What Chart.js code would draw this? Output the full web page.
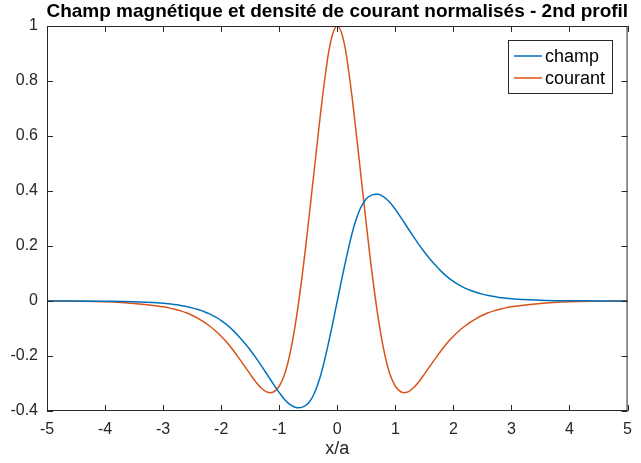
<!DOCTYPE html>
<html>
<head>
<meta charset="utf-8">
<script src="https://cdn.jsdelivr.net/npm/chart.js@4"></script>
<style>
  html, body { margin: 0; padding: 0; background: #fff; }
  #wrap { width: 641px; height: 463px; }
</style>
</head>
<body>
<div id="wrap"><canvas id="chart" width="641" height="463"></canvas></div>
<script>
// DONNÉES
const xs = [-5, -4.5, -4, -3.5,
  -3, -2.9, -2.8, -2.7, -2.6, -2.5, -2.4, -2.3, -2.2, -2.1, -2, -1.9, -1.8, -1.7, -1.6, -1.5, -1.4, -1.3, -1.2, -1.1, -1, -0.9, -0.8, -0.7, -0.6, -0.5, -0.4, -0.3, -0.2, -0.1,
  0, 0.1, 0.2, 0.3, 0.4, 0.5, 0.6, 0.7, 0.8, 0.9, 1, 1.1, 1.2, 1.3, 1.4, 1.5, 1.6, 1.7, 1.8, 1.9, 2, 2.1, 2.2, 2.3, 2.4, 2.5, 2.6, 2.7, 2.8, 2.9, 3,
  3.5, 4, 4.5, 5];
const champ = [0, -0.0003, -0.001, -0.003,
  -0.008, -0.01, -0.013, -0.016, -0.02, -0.025, -0.031, -0.038, -0.047, -0.058, -0.071, -0.087, -0.106, -0.128, -0.152, -0.178, -0.207, -0.238, -0.27, -0.302, -0.333, -0.36, -0.379, -0.388, -0.386, -0.372, -0.338, -0.28, -0.198, -0.102,
  0, 0.102, 0.198, 0.28, 0.338, 0.372, 0.386, 0.388, 0.379, 0.36, 0.333, 0.302, 0.27, 0.238, 0.207, 0.178, 0.152, 0.128, 0.106, 0.087, 0.071, 0.058, 0.047, 0.038, 0.031, 0.025, 0.02, 0.016, 0.013, 0.01, 0.008,
  0.003, 0.001, 0.0003, 0];
const courant = [0, -0.001, -0.003, -0.009,
  -0.021, -0.025, -0.03, -0.036, -0.043, -0.052, -0.063, -0.076, -0.091, -0.108, -0.128, -0.151, -0.177, -0.206, -0.236, -0.266, -0.295, -0.318, -0.332, -0.331, -0.31, -0.262, -0.177, -0.055, 0.1, 0.28, 0.47, 0.66, 0.83, 0.955,
  1, 0.955, 0.83, 0.66, 0.47, 0.28, 0.1, -0.055, -0.177, -0.262, -0.31, -0.331, -0.332, -0.318, -0.295, -0.266, -0.236, -0.206, -0.177, -0.151, -0.128, -0.108, -0.091, -0.076, -0.063, -0.052, -0.043, -0.036, -0.03, -0.025, -0.021,
  -0.009, -0.003, -0.001, 0];
const xTicks = [-5, -4, -3, -2, -1, 0, 1, 2, 3, 4, 5];
const yTicks = [-0.4, -0.2, 0, 0.2, 0.4, 0.6, 0.8, 1];
const titre = "Champ magnétique et densité de courant normalisés - 2nd profil";
const xLabel = "x/a";

const FONT = "'Liberation Sans', Arial, Helvetica, sans-serif";
const AXE = "#262626";

// ------------------------------
// BOÎTE, TICKS INTÉRIEURS, TITRE, LÉGENDE
// ------------------------------
const matlabStyle = {
  id: "matlabStyle",
  afterDraw(chart) {
    const ctx = chart.ctx;
    const a = chart.chartArea;
    const sx = chart.scales.x;
    const sy = chart.scales.y;
    ctx.save();
    ctx.strokeStyle = AXE;
    ctx.lineWidth = 1;
    ctx.strokeRect(a.left + 0.5, a.top + 0.5, a.right - a.left - 1, a.bottom - a.top - 1);
    ctx.beginPath();
    xTicks.forEach((v) => {
      const px = Math.round(sx.getPixelForValue(v)) + 0.5;
      ctx.moveTo(px, a.bottom); ctx.lineTo(px, a.bottom - 6);
      ctx.moveTo(px, a.top); ctx.lineTo(px, a.top + 6);
    });
    yTicks.forEach((v) => {
      const py = Math.round(sy.getPixelForValue(v)) + 0.5;
      ctx.moveTo(a.left, py); ctx.lineTo(a.left + 6, py);
      ctx.moveTo(a.right, py); ctx.lineTo(a.right - 6, py);
    });
    ctx.stroke();

    // titre
    ctx.fillStyle = "#000";
    ctx.font = "bold 19px " + FONT;
    ctx.textAlign = "center";
    ctx.textBaseline = "middle";
    ctx.fillText(titre, (a.left + a.right) / 2, 12);

    // label x
    ctx.fillStyle = AXE;
    ctx.font = "18px " + FONT;
    ctx.fillText(xLabel, (a.left + a.right) / 2, 449);

    // légende
    const lx = 508, ly = 40, lw = 104, lh = 53;
    ctx.fillStyle = "#fff";
    ctx.fillRect(lx, ly, lw, lh);
    ctx.strokeStyle = AXE;
    ctx.strokeRect(lx + 0.5, ly + 0.5, lw, lh);
    ctx.font = "18px " + FONT;
    ctx.textAlign = "left";
    chart.data.datasets.forEach((ds, i) => {
      const yy = ly + 16 + i * 22;
      ctx.strokeStyle = ds.borderColor;
      ctx.lineWidth = 1.5;
      ctx.beginPath();
      ctx.moveTo(lx + 6, yy); ctx.lineTo(lx + 34, yy);
      ctx.stroke();
      ctx.fillStyle = "#000";
      ctx.fillText(ds.label, lx + 37, yy + 1);
    });
    ctx.restore();
  },
};

const ctx = document.getElementById("chart").getContext("2d");
new Chart(ctx, {
  type: "scatter",
  data: {
    datasets: [
      {
        label: "champ",
        data: xs.map((x, i) => ({ x: x, y: champ[i] })),
        borderColor: "#0072BD",
        showLine: true,
      },
      {
        label: "courant",
        data: xs.map((x, i) => ({ x: x, y: courant[i] })),
        borderColor: "#D95319",
        showLine: true,
      },
    ],
  },
  options: {
    responsive: false,
    animation: false,
    devicePixelRatio: 1,
    layout: { padding: { top: 26, right: 6, left: 0, bottom: 0 } },
    elements: {
      point: { radius: 0 },
      line: { borderWidth: 1.5, tension: 0.4, fill: false },
    },
    plugins: { legend: { display: false }, title: { display: false }, tooltip: { enabled: false } },
    scales: {
      x: {
        type: "linear",
        min: -5,
        max: 5,
        afterBuildTicks: (s) => { s.ticks = xTicks.map((v) => ({ value: v })); },
        afterFit: (s) => { s.height = 52; },
        grid: { display: false, drawTicks: false },
        border: { display: false },
        ticks: { color: AXE, font: { family: FONT, size: 16 }, padding: 9, maxRotation: 0 },
      },
      y: {
        type: "linear",
        min: -0.4,
        max: 1,
        afterBuildTicks: (s) => { s.ticks = yTicks.map((v) => ({ value: v })); },
        afterFit: (s) => { s.width = 47; },
        grid: { display: false, drawTicks: false },
        border: { display: false },
        ticks: {
          color: AXE,
          font: { family: FONT, size: 16 },
          padding: 9,
          callback: (v) => String(Math.round(v * 10) / 10),
        },
      },
    },
  },
  plugins: [matlabStyle],
});
</script>
</body>
</html>
